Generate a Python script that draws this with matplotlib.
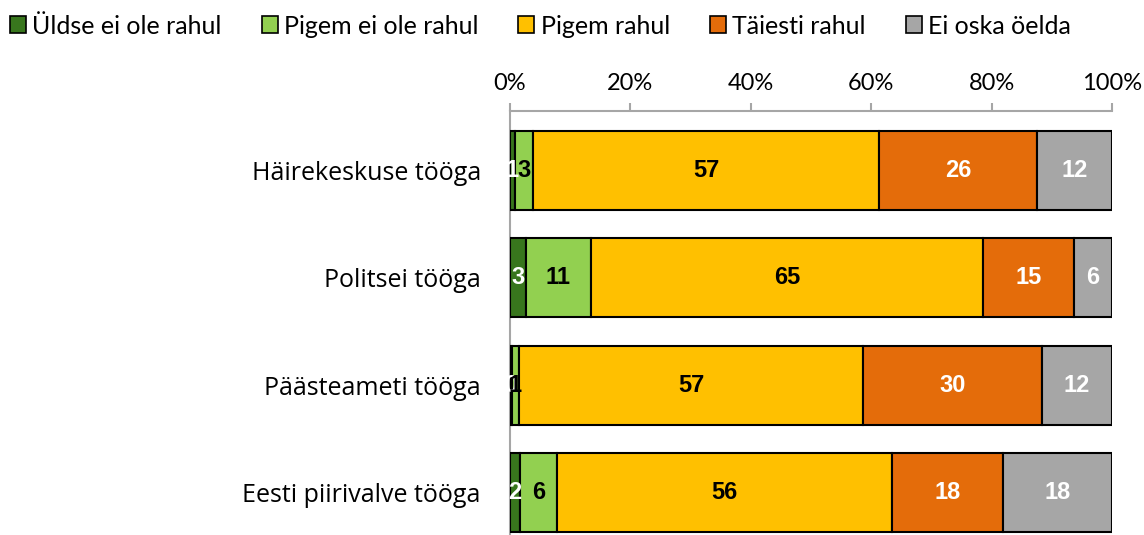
import matplotlib
matplotlib.use("Agg")
import matplotlib.pyplot as plt
import numpy as np
from matplotlib.patches import Patch

# Andmed (protsendid, loetud jooniselt)
categories = ["Häirekeskuse tööga", "Politsei tööga", "Päästeameti tööga", "Eesti piirivalve tööga"]
series_names = ["Üldse ei ole rahul", "Pigem ei ole rahul", "Pigem rahul", "Täiesti rahul", "Ei oska öelda"]
uldse_ei = [0.8, 2.6, 0.3, 1.7]
pigem_ei = [3.1, 10.8, 1.2, 6.1]
pigem_rahul = [57.4, 65.2, 57.2, 55.7]
taiesti = [26.3, 15.1, 29.7, 18.4]
ei_oska = [12.4, 6.3, 11.6, 18.1]
labels = [
    ["1", "3", "57", "26", "12"],
    ["3", "11", "65", "15", "6"],
    ["0", "1", "57", "30", "12"],
    ["2", "6", "56", "18", "18"],
]

colors = ["#38761d", "#92d050", "#ffc000", "#e46c0a", "#a6a6a6"]
text_colors = ["white", "black", "black", "white", "white"]

plt.rcParams['font.family'] = ['Lato', 'DejaVu Sans']

fig = plt.figure(figsize=(11.44, 5.35), dpi=100)
ax = fig.add_axes([510 / 1144, 0.0, (1112 - 510) / 1144, 424 / 535])

data = np.array([uldse_ei, pigem_ei, pigem_rahul, taiesti, ei_oska])
y = np.arange(len(categories))
left = np.zeros(len(categories))
for i in range(len(series_names)):
    ax.barh(y, data[i], left=left, height=0.735, color=colors[i],
            edgecolor="black", linewidth=1.5, zorder=3)
    for j in range(len(categories)):
        ax.text(left[j] + data[i][j] / 2, y[j], labels[j][i], ha="center", va="center",
                color=text_colors[i], fontsize=17, fontweight="bold",
                family=["Liberation Sans", "DejaVu Sans"], zorder=4)
    left += data[i]

ax.set_xlim(0, 100)
ax.set_ylim(3.395, -0.549)
ax.set_yticks(y)
ax.set_yticklabels(categories, fontsize=18, family=["Open Sans", "DejaVu Sans"])
ax.tick_params(axis="y", length=0, pad=21)
ax.xaxis.tick_top()
ax.set_xticks(np.arange(0, 101, 20))
ax.set_xticklabels([f"{v}%" for v in range(0, 101, 20)], fontsize=17)
ax.tick_params(axis="x", length=6, color="#a6a6a6", width=1.5, pad=6)
for s in ["right", "bottom"]:
    ax.spines[s].set_visible(False)
for s in ["top", "left"]:
    ax.spines[s].set_color("#a6a6a6")
    ax.spines[s].set_linewidth(1.5)

handles = [Patch(facecolor=c, edgecolor="black", linewidth=1.2) for c in colors]
fig.legend(handles, series_names, loc="center left", bbox_to_anchor=(10 / 1144, 1 - 26 / 535),
           ncol=5, frameon=False, fontsize=18, handlelength=0.64, handleheight=0.64,
           handletextpad=0.25, columnspacing=1.6, borderaxespad=0, borderpad=0)

fig.savefig("out.png", dpi=100)
